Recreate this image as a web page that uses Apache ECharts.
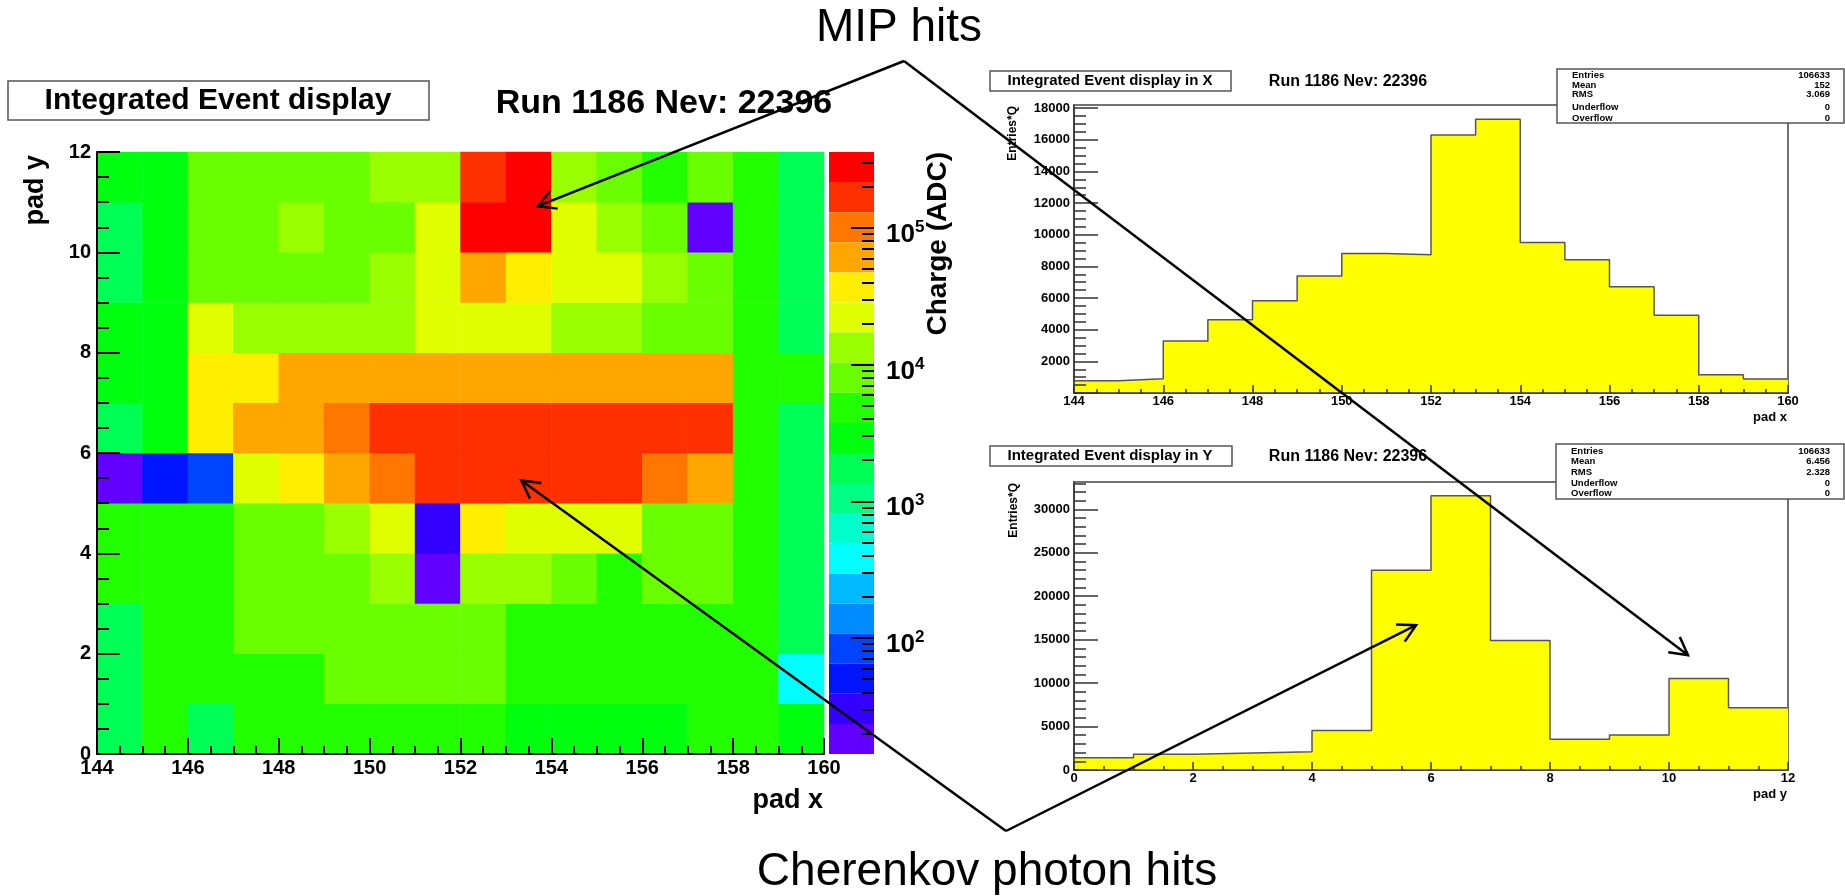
<!DOCTYPE html>
<html>
<head>
<meta charset="utf-8">
<title>Integrated Event display</title>
<script src="https://cdn.jsdelivr.net/npm/echarts@6/dist/echarts.min.js"></script>
<style>
  html, body { margin: 0; padding: 0; background: #fff; }
  #chart { width: 1845px; height: 896px; }
</style>
</head>
<body>
<div id="chart"></div>
<script>
// pad coordinates (bin lower edges)
const padX = [144, 145, 146, 147, 148, 149, 150, 151, 152, 153, 154, 155, 156, 157, 158, 159];
const padY = [0, 1, 2, 3, 4, 5, 6, 7, 8, 9, 10, 11];

// integrated charge per pad (ADC), one row per pad y
const chargeY0  = [1800, 4300, 1700, 4500, 4600, 4400, 4700, 4500, 4300, 3300, 3200, 3400, 3300, 4100, 4200, 3100];
const chargeY1  = [1700, 4800, 4600, 4900, 5000, 7400, 7600, 7200, 7000, 5200, 5100, 4900, 4800, 5000, 4700, 390];
const chargeY2  = [1800, 5300, 5500, 7900, 8200, 8000, 7700, 7800, 7500, 5600, 5400, 5200, 5000, 4900, 5100, 1900];
const chargeY3  = [4700, 4900, 5100, 8400, 8600, 8900, 13500, 19, 12800, 12500, 8200, 5600, 8100, 7800, 5000, 1800];
const chargeY4  = [5000, 5200, 5400, 8800, 9000, 14000, 23000, 31, 36000, 22000, 21500, 20500, 9200, 8700, 5100, 1800];
const chargeY5  = [18, 50, 85, 24000, 38000, 62000, 104000, 172000, 178000, 175000, 170000, 165000, 98000, 60000, 5200, 1900];
const chargeY6  = [1900, 3200, 39000, 64000, 66000, 108000, 168000, 175000, 180000, 182000, 176000, 172000, 166000, 160000, 5400, 1700];
const chargeY7  = [3100, 3000, 40000, 41000, 58000, 60000, 61000, 63000, 65000, 64000, 62000, 60000, 59000, 57000, 5200, 4800];
const chargeY8  = [3200, 3100, 24000, 14500, 15000, 15500, 14800, 23000, 24500, 23500, 14200, 13800, 8600, 8200, 5300, 1800];
const chargeY9  = [1700, 2900, 8300, 8500, 8700, 8800, 13200, 22500, 58000, 40000, 23000, 21000, 13000, 8400, 4900, 1700];
const chargeY10 = [1600, 3000, 8000, 8200, 13600, 8900, 9100, 24000, 285000, 300000, 22500, 14500, 8300, 20, 4700, 1700];
const chargeY11 = [2900, 3000, 8100, 8300, 8600, 8700, 13800, 14200, 195000, 330000, 13500, 8600, 5000, 8100, 4600, 1800];
const chargeRows = [chargeY0, chargeY1, chargeY2, chargeY3, chargeY4, chargeY5,
                    chargeY6, chargeY7, chargeY8, chargeY9, chargeY10, chargeY11];

// projections (Entries*Q)
const xProjection = [780, 900, 3280, 4630, 5830, 7390, 8820, 8730, 16300, 17300, 9510, 8420, 6710, 4920, 1160, 890];
const yProjection = [1410, 1800, 1950, 2100, 4560, 22990, 31560, 14900, 3530, 4020, 10540, 7160];

// colour scale (log10 of charge) and the 20-step "pretty" palette, violet -> red
const zLogMin = 1.151;
const zLogMax = 5.556;
const palette = ['#6100ff', '#3300ff', '#0014ff', '#0044ff', '#008bff', '#00bbff', '#00fffc', '#00ffcc',
                 '#00ff85', '#00ff55', '#00ff0e', '#22ff00', '#69ff00', '#99ff00', '#e0ff00', '#ffee00',
                 '#ffa700', '#ff7700', '#ff3000', '#ff0000'];
const zDecades = [2, 3, 4, 5];

// tick values
const xHistMajor = [0, 2000, 4000, 6000, 8000, 10000, 12000, 14000, 16000, 18000];
const xHistLabels = [2000, 4000, 6000, 8000, 10000, 12000, 14000, 16000, 18000];
const yHistMajor = [0, 5000, 10000, 15000, 20000, 25000, 30000];

const statsX = [['Entries', '106633'], ['Mean', '152'], ['RMS', '3.069'], ['Underflow', '0'], ['Overflow', '0']];
const statsY = [['Entries', '106633'], ['Mean', '6.456'], ['RMS', '2.328'], ['Underflow', '0'], ['Overflow', '0']];

const FONT = '"Liberation Sans", Arial, sans-serif';

// ---- derived ----
const heatData = [];
chargeRows.forEach((row, j) => row.forEach((v, i) => heatData.push([i, j, v])));

const step = (zLogMax - zLogMin) / palette.length;
const pieces = palette.map((c, i) => ({
  gte: Math.pow(10, zLogMin + i * step),
  lt: Math.pow(10, zLogMin + (i + 1) * step),
  color: c,
}));

const zMinor = [];
for (let n = 1; n <= 5; n++) {
  for (let k = 2; k <= 9; k++) {
    const l = Math.log10(k) + n;
    if (l > zLogMin && l < zLogMax) zMinor.push(l);
  }
}
const xHistMinor = [];
for (let v = 500; v <= 18000; v += 500) xHistMinor.push(v);
const yHistMinor = [];
for (let v = 1000; v <= 33000; v += 1000) yHistMinor.push(v);

function histSteps(edges, counts) {
  const pts = edges.map((x, i) => [x, counts[i]]);
  pts.push([edges[edges.length - 1] + 1, counts[counts.length - 1]]);
  return pts;
}

function rootAxis(extra, major, minor, labelSize, lineColor, lineWidth, margin) {
  return Object.assign({
    type: 'value',
    z: 10,
    axisLine: { show: true, onZero: false, lineStyle: { color: lineColor, width: lineWidth } },
    axisTick: { inside: true, length: major, lineStyle: { color: lineColor, width: lineWidth } },
    minorTick: { show: true, splitNumber: 4, length: minor, lineStyle: { color: lineColor, width: lineWidth } },
    axisLabel: { color: '#000', fontFamily: FONT, fontWeight: 'bold', fontSize: labelSize, margin, formatter: (v) => String(v) },
    splitLine: { show: false },
  }, extra);
}

// an axis that only draws ticks at given values
function tickAxis(extra, len, values, color, width, showLine) {
  return Object.assign({
    type: 'value',
    z: 10,
    axisLine: { show: !!showLine, onZero: false, lineStyle: { color, width } },
    axisTick: { show: true, inside: true, length: len, customValues: values, lineStyle: { color, width } },
    axisLabel: { show: false },
    splitLine: { show: false },
  }, extra);
}

// an axis that only draws labels at given values
function labelAxis(extra, values, label) {
  return Object.assign({
    type: 'value',
    z: 10,
    axisLine: { show: false, onZero: false },
    axisTick: { show: false },
    axisLabel: Object.assign({ customValues: values, color: '#000', fontFamily: FONT, fontWeight: 'bold' }, label),
    splitLine: { show: false },
  }, extra);
}

const chart = echarts.init(document.getElementById('chart'));

chart.setOption({
  animation: false,
  backgroundColor: '#fff',
  grid: [
    { left: 97, top: 152, width: 727, height: 602 },
    { left: 97, top: 152, width: 727, height: 602 },
    { left: 829, top: 152, width: 45, height: 602 },
    { left: 1074, top: 105, width: 714, height: 288, show: true, borderColor: '#444', borderWidth: 1.5 },
    { left: 1074, top: 482, width: 714, height: 288, show: true, borderColor: '#444', borderWidth: 1.5 },
  ],
  xAxis: [
    { type: 'category', gridIndex: 0, data: padX.map(String), show: false },
    rootAxis({ gridIndex: 1, min: 144, max: 160, interval: 2, position: 'bottom' }, 16, 8, 20, '#000', 2, 4),
    { type: 'value', gridIndex: 2, min: 1, max: 2, show: false },
    rootAxis({ gridIndex: 3, min: 144, max: 160, interval: 2, position: 'bottom' }, 8, 4, 13, '#333', 1.5, 2),
    rootAxis({ gridIndex: 4, min: 0, max: 12, interval: 2, position: 'bottom' }, 8, 4, 13, '#333', 1.5, 2),
  ],
  yAxis: [
    { type: 'category', gridIndex: 0, data: padY.map(String), show: false },
    rootAxis({ gridIndex: 1, min: 0, max: 12, interval: 2, position: 'left' }, 23, 12, 20, '#000', 2, 6),
    // colour bar: major ticks, minor ticks, labels
    tickAxis({ gridIndex: 2, min: zLogMin, max: zLogMax, position: 'right' }, 23, zDecades, '#000', 2),
    tickAxis({ gridIndex: 2, min: zLogMin, max: zLogMax, position: 'right' }, 12, zMinor, '#000', 2),
    labelAxis({ gridIndex: 2, min: zLogMin, max: zLogMax, position: 'right' }, zDecades, {
      margin: 12,
      padding: [14, 0, 0, 0],
      formatter: (v) => '{b|10}{s|' + Math.round(v) + '}',
      rich: {
        b: { fontFamily: FONT, fontWeight: 'bold', fontSize: 26, color: '#000', lineHeight: 32 },
        s: { fontFamily: FONT, fontWeight: 'bold', fontSize: 17, color: '#000', lineHeight: 32, verticalAlign: 'top' },
      },
    }),
    // projection in x
    tickAxis({ gridIndex: 3, min: 0, max: 18200, position: 'left' }, 24, xHistMajor, '#333', 1.5, true),
    tickAxis({ gridIndex: 3, min: 0, max: 18200, position: 'left' }, 12, xHistMinor, '#333', 1.5),
    labelAxis({ gridIndex: 3, min: 0, max: 18200, position: 'left' }, xHistLabels, { fontSize: 13, margin: 4, formatter: (v) => String(v) }),
    // projection in y
    tickAxis({ gridIndex: 4, min: 0, max: 33150, position: 'left' }, 24, yHistMajor, '#333', 1.5, true),
    tickAxis({ gridIndex: 4, min: 0, max: 33150, position: 'left' }, 12, yHistMinor, '#333', 1.5),
    labelAxis({ gridIndex: 4, min: 0, max: 33150, position: 'left' }, yHistMajor, { fontSize: 13, margin: 4, formatter: (v) => String(v) }),
  ],
  visualMap: {
    type: 'piecewise',
    seriesIndex: 0,
    dimension: 2,
    pieces,
    orient: 'vertical',
    left: 829,
    top: 152,
    padding: 0,
    itemWidth: 45,
    itemHeight: 30.1,
    itemGap: 0,
    itemSymbol: 'rect',
    showLabel: false,
    selectedMode: false,
    hoverLink: false,
  },
  series: [
    {
      type: 'heatmap',
      xAxisIndex: 0,
      yAxisIndex: 0,
      data: heatData,
      itemStyle: { borderWidth: 0 },
      emphasis: { disabled: true },
    },
    {
      type: 'line',
      xAxisIndex: 3,
      yAxisIndex: 5,
      step: 'end',
      symbol: 'none',
      data: histSteps(padX, xProjection),
      lineStyle: { color: '#555', width: 1.5 },
      areaStyle: { color: '#ffff00', opacity: 1 },
    },
    {
      type: 'line',
      xAxisIndex: 4,
      yAxisIndex: 8,
      step: 'end',
      symbol: 'none',
      data: histSteps(padY, yProjection),
      lineStyle: { color: '#555', width: 1.5 },
      areaStyle: { color: '#ffff00', opacity: 1 },
    },
  ],
});

function text(x, y, str, font, align, vAlign, extra) {
  return Object.assign({
    type: 'text', x, y, z: 100,
    style: { text: str, font, fill: '#000', align: align || 'left', verticalAlign: vAlign || 'middle' },
  }, extra || {});
}

function box(x, y, w, h) {
  return { type: 'rect', z: 90, shape: { x, y, width: w, height: h },
    style: { fill: '#fff', stroke: '#555', lineWidth: 1.5 } };
}

function statsBox(x, y, w, h, rows, rowY) {
  const els = [box(x, y, w, h)];
  rows.forEach((r, i) => {
    els.push(text(x + 15, rowY[i], r[0], 'bold 9.5px ' + FONT, 'left'));
    els.push(text(x + w - 14, rowY[i], r[1], 'bold 9.5px ' + FONT, 'right'));
  });
  return els;
}

function arrow(from, to) {
  const ang = Math.atan2(from[1] - to[1], from[0] - to[0]);
  const head = 20;
  const spread = 0.5;
  const p1 = [to[0] + head * Math.cos(ang + spread), to[1] + head * Math.sin(ang + spread)];
  const p2 = [to[0] + head * Math.cos(ang - spread), to[1] + head * Math.sin(ang - spread)];
  return [
    { type: 'line', z: 120, shape: { x1: from[0], y1: from[1], x2: to[0], y2: to[1] },
      style: { stroke: '#000', lineWidth: 2.5 } },
    { type: 'polyline', z: 120, shape: { points: [p1, to, p2] },
      style: { stroke: '#000', lineWidth: 2.5, fill: null } },
  ];
}

const heatAxes = { xAxisIndex: 1, yAxisIndex: 1 };
const yHistAxes = { xAxisIndex: 4, yAxisIndex: 8 };
const mipApex = [904, 61];
const cherenkovApex = [1006, 831];

const graphics = [
  box(8, 81, 421, 39),
  text(218, 101, 'Integrated Event display', 'bold 30px ' + FONT, 'center'),
  text(664, 104, 'Run 1186 Nev: 22396', 'bold 34px ' + FONT, 'center'),
  text(36, 155, 'pad y', 'bold 27px ' + FONT, 'right', 'middle', { rotation: Math.PI / 2 }),
  text(823, 801, 'pad x', 'bold 27px ' + FONT, 'right'),
  text(938, 152, 'Charge (ADC)', 'bold 28px ' + FONT, 'right', 'middle', { rotation: Math.PI / 2 }),

  box(990, 71, 241, 20),
  text(1110, 81, 'Integrated Event display in X', 'bold 15px ' + FONT, 'center'),
  text(1348, 82, 'Run 1186 Nev: 22396', 'bold 16px ' + FONT, 'center'),
  text(1013, 106, 'Entries*Q', 'bold 12px ' + FONT, 'right', 'middle', { rotation: Math.PI / 2 }),
  text(1787, 417, 'pad x', 'bold 13px ' + FONT, 'right'),
  ...statsBox(1557, 69, 287, 54, statsX, [75, 85, 94, 107, 118]),

  box(990, 446, 242, 20),
  text(1110, 456, 'Integrated Event display in Y', 'bold 15px ' + FONT, 'center'),
  text(1348, 457, 'Run 1186 Nev: 22396', 'bold 16px ' + FONT, 'center'),
  text(1014, 483, 'Entries*Q', 'bold 12px ' + FONT, 'right', 'middle', { rotation: Math.PI / 2 }),
  text(1787, 794, 'pad y', 'bold 13px ' + FONT, 'right'),
  ...statsBox(1556, 444, 288, 55, statsY, [451, 461.5, 472, 483, 493.5]),

  text(899, 28, 'MIP hits', '46px ' + FONT, 'center'),
  text(987, 872, 'Cherenkov photon hits', '46px ' + FONT, 'center'),
  ...arrow(mipApex, chart.convertToPixel(heatAxes, [153.7, 10.92])),
  ...arrow(mipApex, chart.convertToPixel(yHistAxes, [10.32, 13220])),
  ...arrow(cherenkovApex, chart.convertToPixel(heatAxes, [153.34, 5.45])),
  ...arrow(cherenkovApex, chart.convertToPixel(yHistAxes, [5.75, 16670])),
];

chart.setOption({ graphic: graphics });
</script>
</body>
</html>
